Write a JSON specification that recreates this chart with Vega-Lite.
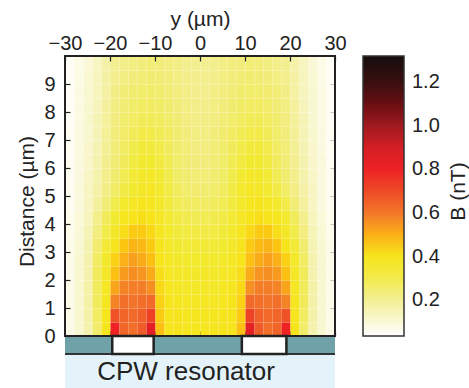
{
"$schema": "https://vega.github.io/schema/vega-lite/v6.json",
"width": 270, "height": 332,
"autosize": {"type": "none"},
"padding": {"left": 65, "top": 56, "right": 134, "bottom": 0},
"config": {
  "font": "Liberation Sans",
  "view": {"stroke": null},
  "axis": {"labelFontSize": 20, "titleFontSize": 21, "titleFontWeight": "normal", "labelColor": "#222", "titleColor": "#222", "tickColor": "#222", "domain": false, "grid": false, "tickSize": -5, "tickWidth": 1.2, "labelFlush": false, "labelOverlap": false}
},
"datasets": {
"field": [
{"y":-30,"z":0,"b":0.07},{"y":-28,"z":0,"b":0.11},{"y":-26,"z":0,"b":0.16},{"y":-24,"z":0,"b":0.26},{"y":-22,"z":0,"b":0.40},{"y":-20,"z":0,"b":0.80},{"y":-18,"z":0,"b":0.64},{"y":-16,"z":0,"b":0.62},{"y":-14,"z":0,"b":0.66},{"y":-12,"z":0,"b":0.85},{"y":-10,"z":0,"b":0.47},{"y":-8,"z":0,"b":0.40},{"y":-6,"z":0,"b":0.40},{"y":-4,"z":0,"b":0.39},{"y":-2,"z":0,"b":0.39},
{"y":0,"z":0,"b":0.39},{"y":2,"z":0,"b":0.39},{"y":4,"z":0,"b":0.40},{"y":6,"z":0,"b":0.40},{"y":8,"z":0,"b":0.47},{"y":10,"z":0,"b":0.85},{"y":12,"z":0,"b":0.66},{"y":14,"z":0,"b":0.62},{"y":16,"z":0,"b":0.64},{"y":18,"z":0,"b":0.80},{"y":20,"z":0,"b":0.40},{"y":22,"z":0,"b":0.26},{"y":24,"z":0,"b":0.16},{"y":26,"z":0,"b":0.11},{"y":28,"z":0,"b":0.07},
{"y":-30,"z":0.5,"b":0.07},{"y":-28,"z":0.5,"b":0.11},{"y":-26,"z":0.5,"b":0.17},{"y":-24,"z":0.5,"b":0.27},{"y":-22,"z":0.5,"b":0.40},{"y":-20,"z":0.5,"b":0.68},{"y":-18,"z":0.5,"b":0.64},{"y":-16,"z":0.5,"b":0.63},{"y":-14,"z":0.5,"b":0.65},{"y":-12,"z":0.5,"b":0.72},{"y":-10,"z":0.5,"b":0.45},{"y":-8,"z":0.5,"b":0.40},{"y":-6,"z":0.5,"b":0.40},{"y":-4,"z":0.5,"b":0.39},{"y":-2,"z":0.5,"b":0.39},
{"y":0,"z":0.5,"b":0.39},{"y":2,"z":0.5,"b":0.39},{"y":4,"z":0.5,"b":0.40},{"y":6,"z":0.5,"b":0.40},{"y":8,"z":0.5,"b":0.45},{"y":10,"z":0.5,"b":0.72},{"y":12,"z":0.5,"b":0.65},{"y":14,"z":0.5,"b":0.63},{"y":16,"z":0.5,"b":0.64},{"y":18,"z":0.5,"b":0.68},{"y":20,"z":0.5,"b":0.40},{"y":22,"z":0.5,"b":0.27},{"y":24,"z":0.5,"b":0.17},{"y":26,"z":0.5,"b":0.11},{"y":28,"z":0.5,"b":0.07},
{"y":-30,"z":1,"b":0.07},{"y":-28,"z":1,"b":0.11},{"y":-26,"z":1,"b":0.17},{"y":-24,"z":1,"b":0.28},{"y":-22,"z":1,"b":0.39},{"y":-20,"z":1,"b":0.58},{"y":-18,"z":1,"b":0.62},{"y":-16,"z":1,"b":0.61},{"y":-14,"z":1,"b":0.62},{"y":-12,"z":1,"b":0.63},{"y":-10,"z":1,"b":0.44},{"y":-8,"z":1,"b":0.40},{"y":-6,"z":1,"b":0.39},{"y":-4,"z":1,"b":0.38},{"y":-2,"z":1,"b":0.38},
{"y":0,"z":1,"b":0.38},{"y":2,"z":1,"b":0.38},{"y":4,"z":1,"b":0.39},{"y":6,"z":1,"b":0.40},{"y":8,"z":1,"b":0.44},{"y":10,"z":1,"b":0.63},{"y":12,"z":1,"b":0.62},{"y":14,"z":1,"b":0.61},{"y":16,"z":1,"b":0.62},{"y":18,"z":1,"b":0.58},{"y":20,"z":1,"b":0.39},{"y":22,"z":1,"b":0.28},{"y":24,"z":1,"b":0.17},{"y":26,"z":1,"b":0.11},{"y":28,"z":1,"b":0.07},
{"y":-30,"z":1.5,"b":0.07},{"y":-28,"z":1.5,"b":0.11},{"y":-26,"z":1.5,"b":0.17},{"y":-24,"z":1.5,"b":0.28},{"y":-22,"z":1.5,"b":0.38},{"y":-20,"z":1.5,"b":0.52},{"y":-18,"z":1.5,"b":0.58},{"y":-16,"z":1.5,"b":0.59},{"y":-14,"z":1.5,"b":0.59},{"y":-12,"z":1.5,"b":0.56},{"y":-10,"z":1.5,"b":0.43},{"y":-8,"z":1.5,"b":0.39},{"y":-6,"z":1.5,"b":0.38},{"y":-4,"z":1.5,"b":0.37},{"y":-2,"z":1.5,"b":0.37},
{"y":0,"z":1.5,"b":0.37},{"y":2,"z":1.5,"b":0.37},{"y":4,"z":1.5,"b":0.38},{"y":6,"z":1.5,"b":0.39},{"y":8,"z":1.5,"b":0.43},{"y":10,"z":1.5,"b":0.56},{"y":12,"z":1.5,"b":0.59},{"y":14,"z":1.5,"b":0.59},{"y":16,"z":1.5,"b":0.58},{"y":18,"z":1.5,"b":0.52},{"y":20,"z":1.5,"b":0.38},{"y":22,"z":1.5,"b":0.28},{"y":24,"z":1.5,"b":0.17},{"y":26,"z":1.5,"b":0.11},{"y":28,"z":1.5,"b":0.07},
{"y":-30,"z":2,"b":0.07},{"y":-28,"z":2,"b":0.11},{"y":-26,"z":2,"b":0.16},{"y":-24,"z":2,"b":0.28},{"y":-22,"z":2,"b":0.37},{"y":-20,"z":2,"b":0.47},{"y":-18,"z":2,"b":0.54},{"y":-16,"z":2,"b":0.56},{"y":-14,"z":2,"b":0.55},{"y":-12,"z":2,"b":0.51},{"y":-10,"z":2,"b":0.42},{"y":-8,"z":2,"b":0.38},{"y":-6,"z":2,"b":0.37},{"y":-4,"z":2,"b":0.36},{"y":-2,"z":2,"b":0.36},
{"y":0,"z":2,"b":0.36},{"y":2,"z":2,"b":0.36},{"y":4,"z":2,"b":0.37},{"y":6,"z":2,"b":0.38},{"y":8,"z":2,"b":0.42},{"y":10,"z":2,"b":0.51},{"y":12,"z":2,"b":0.55},{"y":14,"z":2,"b":0.56},{"y":16,"z":2,"b":0.54},{"y":18,"z":2,"b":0.47},{"y":20,"z":2,"b":0.37},{"y":22,"z":2,"b":0.28},{"y":24,"z":2,"b":0.16},{"y":26,"z":2,"b":0.11},{"y":28,"z":2,"b":0.07},
{"y":-30,"z":2.5,"b":0.07},{"y":-28,"z":2.5,"b":0.11},{"y":-26,"z":2.5,"b":0.16},{"y":-24,"z":2.5,"b":0.27},{"y":-22,"z":2.5,"b":0.36},{"y":-20,"z":2.5,"b":0.44},{"y":-18,"z":2.5,"b":0.50},{"y":-16,"z":2.5,"b":0.53},{"y":-14,"z":2.5,"b":0.51},{"y":-12,"z":2.5,"b":0.47},{"y":-10,"z":2.5,"b":0.41},{"y":-8,"z":2.5,"b":0.38},{"y":-6,"z":2.5,"b":0.36},{"y":-4,"z":2.5,"b":0.35},{"y":-2,"z":2.5,"b":0.35},
{"y":0,"z":2.5,"b":0.35},{"y":2,"z":2.5,"b":0.35},{"y":4,"z":2.5,"b":0.36},{"y":6,"z":2.5,"b":0.38},{"y":8,"z":2.5,"b":0.41},{"y":10,"z":2.5,"b":0.47},{"y":12,"z":2.5,"b":0.51},{"y":14,"z":2.5,"b":0.53},{"y":16,"z":2.5,"b":0.50},{"y":18,"z":2.5,"b":0.44},{"y":20,"z":2.5,"b":0.36},{"y":22,"z":2.5,"b":0.27},{"y":24,"z":2.5,"b":0.16},{"y":26,"z":2.5,"b":0.11},{"y":28,"z":2.5,"b":0.07},
{"y":-30,"z":3,"b":0.07},{"y":-28,"z":3,"b":0.105},{"y":-26,"z":3,"b":0.155},{"y":-24,"z":3,"b":0.25},{"y":-22,"z":3,"b":0.33},{"y":-20,"z":3,"b":0.40},{"y":-18,"z":3,"b":0.46},{"y":-16,"z":3,"b":0.49},{"y":-14,"z":3,"b":0.48},{"y":-12,"z":3,"b":0.45},{"y":-10,"z":3,"b":0.40},{"y":-8,"z":3,"b":0.36},{"y":-6,"z":3,"b":0.34},{"y":-4,"z":3,"b":0.33},{"y":-2,"z":3,"b":0.33},
{"y":0,"z":3,"b":0.33},{"y":2,"z":3,"b":0.33},{"y":4,"z":3,"b":0.34},{"y":6,"z":3,"b":0.36},{"y":8,"z":3,"b":0.40},{"y":10,"z":3,"b":0.45},{"y":12,"z":3,"b":0.48},{"y":14,"z":3,"b":0.49},{"y":16,"z":3,"b":0.46},{"y":18,"z":3,"b":0.40},{"y":20,"z":3,"b":0.33},{"y":22,"z":3,"b":0.25},{"y":24,"z":3,"b":0.155},{"y":26,"z":3,"b":0.105},{"y":28,"z":3,"b":0.07},
{"y":-30,"z":3.5,"b":0.065},{"y":-28,"z":3.5,"b":0.10},{"y":-26,"z":3.5,"b":0.15},{"y":-24,"z":3.5,"b":0.23},{"y":-22,"z":3.5,"b":0.30},{"y":-20,"z":3.5,"b":0.37},{"y":-18,"z":3.5,"b":0.42},{"y":-16,"z":3.5,"b":0.45},{"y":-14,"z":3.5,"b":0.45},{"y":-12,"z":3.5,"b":0.43},{"y":-10,"z":3.5,"b":0.39},{"y":-8,"z":3.5,"b":0.35},{"y":-6,"z":3.5,"b":0.325},{"y":-4,"z":3.5,"b":0.315},{"y":-2,"z":3.5,"b":0.31},
{"y":0,"z":3.5,"b":0.31},{"y":2,"z":3.5,"b":0.315},{"y":4,"z":3.5,"b":0.325},{"y":6,"z":3.5,"b":0.35},{"y":8,"z":3.5,"b":0.39},{"y":10,"z":3.5,"b":0.43},{"y":12,"z":3.5,"b":0.45},{"y":14,"z":3.5,"b":0.45},{"y":16,"z":3.5,"b":0.42},{"y":18,"z":3.5,"b":0.37},{"y":20,"z":3.5,"b":0.30},{"y":22,"z":3.5,"b":0.23},{"y":24,"z":3.5,"b":0.15},{"y":26,"z":3.5,"b":0.10},{"y":28,"z":3.5,"b":0.065},
{"y":-30,"z":4,"b":0.065},{"y":-28,"z":4,"b":0.095},{"y":-26,"z":4,"b":0.14},{"y":-24,"z":4,"b":0.21},{"y":-22,"z":4,"b":0.28},{"y":-20,"z":4,"b":0.34},{"y":-18,"z":4,"b":0.39},{"y":-16,"z":4,"b":0.41},{"y":-14,"z":4,"b":0.42},{"y":-12,"z":4,"b":0.41},{"y":-10,"z":4,"b":0.375},{"y":-8,"z":4,"b":0.335},{"y":-6,"z":4,"b":0.31},{"y":-4,"z":4,"b":0.295},{"y":-2,"z":4,"b":0.29},
{"y":0,"z":4,"b":0.29},{"y":2,"z":4,"b":0.295},{"y":4,"z":4,"b":0.31},{"y":6,"z":4,"b":0.335},{"y":8,"z":4,"b":0.375},{"y":10,"z":4,"b":0.41},{"y":12,"z":4,"b":0.42},{"y":14,"z":4,"b":0.41},{"y":16,"z":4,"b":0.39},{"y":18,"z":4,"b":0.34},{"y":20,"z":4,"b":0.28},{"y":22,"z":4,"b":0.21},{"y":24,"z":4,"b":0.14},{"y":26,"z":4,"b":0.095},{"y":28,"z":4,"b":0.065},
{"y":-30,"z":4.5,"b":0.06},{"y":-28,"z":4.5,"b":0.09},{"y":-26,"z":4.5,"b":0.13},{"y":-24,"z":4.5,"b":0.185},{"y":-22,"z":4.5,"b":0.24},{"y":-20,"z":4.5,"b":0.30},{"y":-18,"z":4.5,"b":0.35},{"y":-16,"z":4.5,"b":0.38},{"y":-14,"z":4.5,"b":0.40},{"y":-12,"z":4.5,"b":0.39},{"y":-10,"z":4.5,"b":0.36},{"y":-8,"z":4.5,"b":0.32},{"y":-6,"z":4.5,"b":0.29},{"y":-4,"z":4.5,"b":0.275},{"y":-2,"z":4.5,"b":0.27},
{"y":0,"z":4.5,"b":0.27},{"y":2,"z":4.5,"b":0.275},{"y":4,"z":4.5,"b":0.29},{"y":6,"z":4.5,"b":0.32},{"y":8,"z":4.5,"b":0.36},{"y":10,"z":4.5,"b":0.39},{"y":12,"z":4.5,"b":0.40},{"y":14,"z":4.5,"b":0.38},{"y":16,"z":4.5,"b":0.35},{"y":18,"z":4.5,"b":0.30},{"y":20,"z":4.5,"b":0.24},{"y":22,"z":4.5,"b":0.185},{"y":24,"z":4.5,"b":0.13},{"y":26,"z":4.5,"b":0.09},{"y":28,"z":4.5,"b":0.06},
{"y":-30,"z":5,"b":0.06},{"y":-28,"z":5,"b":0.09},{"y":-26,"z":5,"b":0.13},{"y":-24,"z":5,"b":0.17},{"y":-22,"z":5,"b":0.22},{"y":-20,"z":5,"b":0.265},{"y":-18,"z":5,"b":0.31},{"y":-16,"z":5,"b":0.34},{"y":-14,"z":5,"b":0.37},{"y":-12,"z":5,"b":0.38},{"y":-10,"z":5,"b":0.35},{"y":-8,"z":5,"b":0.31},{"y":-6,"z":5,"b":0.275},{"y":-4,"z":5,"b":0.26},{"y":-2,"z":5,"b":0.25},
{"y":0,"z":5,"b":0.25},{"y":2,"z":5,"b":0.26},{"y":4,"z":5,"b":0.275},{"y":6,"z":5,"b":0.31},{"y":8,"z":5,"b":0.35},{"y":10,"z":5,"b":0.38},{"y":12,"z":5,"b":0.37},{"y":14,"z":5,"b":0.34},{"y":16,"z":5,"b":0.31},{"y":18,"z":5,"b":0.265},{"y":20,"z":5,"b":0.22},{"y":22,"z":5,"b":0.17},{"y":24,"z":5,"b":0.13},{"y":26,"z":5,"b":0.09},{"y":28,"z":5,"b":0.06},
{"y":-30,"z":5.5,"b":0.06},{"y":-28,"z":5.5,"b":0.09},{"y":-26,"z":5.5,"b":0.125},{"y":-24,"z":5.5,"b":0.165},{"y":-22,"z":5.5,"b":0.21},{"y":-20,"z":5.5,"b":0.25},{"y":-18,"z":5.5,"b":0.29},{"y":-16,"z":5.5,"b":0.33},{"y":-14,"z":5.5,"b":0.36},{"y":-12,"z":5.5,"b":0.365},{"y":-10,"z":5.5,"b":0.34},{"y":-8,"z":5.5,"b":0.30},{"y":-6,"z":5.5,"b":0.265},{"y":-4,"z":5.5,"b":0.25},{"y":-2,"z":5.5,"b":0.24},
{"y":0,"z":5.5,"b":0.24},{"y":2,"z":5.5,"b":0.25},{"y":4,"z":5.5,"b":0.265},{"y":6,"z":5.5,"b":0.30},{"y":8,"z":5.5,"b":0.34},{"y":10,"z":5.5,"b":0.365},{"y":12,"z":5.5,"b":0.36},{"y":14,"z":5.5,"b":0.33},{"y":16,"z":5.5,"b":0.29},{"y":18,"z":5.5,"b":0.25},{"y":20,"z":5.5,"b":0.21},{"y":22,"z":5.5,"b":0.165},{"y":24,"z":5.5,"b":0.125},{"y":26,"z":5.5,"b":0.09},{"y":28,"z":5.5,"b":0.06},
{"y":-30,"z":6,"b":0.055},{"y":-28,"z":6,"b":0.09},{"y":-26,"z":6,"b":0.12},{"y":-24,"z":6,"b":0.16},{"y":-22,"z":6,"b":0.205},{"y":-20,"z":6,"b":0.245},{"y":-18,"z":6,"b":0.28},{"y":-16,"z":6,"b":0.315},{"y":-14,"z":6,"b":0.34},{"y":-12,"z":6,"b":0.345},{"y":-10,"z":6,"b":0.32},{"y":-8,"z":6,"b":0.29},{"y":-6,"z":6,"b":0.26},{"y":-4,"z":6,"b":0.245},{"y":-2,"z":6,"b":0.235},
{"y":0,"z":6,"b":0.235},{"y":2,"z":6,"b":0.245},{"y":4,"z":6,"b":0.26},{"y":6,"z":6,"b":0.29},{"y":8,"z":6,"b":0.32},{"y":10,"z":6,"b":0.345},{"y":12,"z":6,"b":0.34},{"y":14,"z":6,"b":0.315},{"y":16,"z":6,"b":0.28},{"y":18,"z":6,"b":0.245},{"y":20,"z":6,"b":0.205},{"y":22,"z":6,"b":0.16},{"y":24,"z":6,"b":0.12},{"y":26,"z":6,"b":0.09},{"y":28,"z":6,"b":0.055},
{"y":-30,"z":6.5,"b":0.055},{"y":-28,"z":6.5,"b":0.085},{"y":-26,"z":6.5,"b":0.12},{"y":-24,"z":6.5,"b":0.155},{"y":-22,"z":6.5,"b":0.20},{"y":-20,"z":6.5,"b":0.24},{"y":-18,"z":6.5,"b":0.27},{"y":-16,"z":6.5,"b":0.30},{"y":-14,"z":6.5,"b":0.325},{"y":-12,"z":6.5,"b":0.325},{"y":-10,"z":6.5,"b":0.305},{"y":-8,"z":6.5,"b":0.28},{"y":-6,"z":6.5,"b":0.255},{"y":-4,"z":6.5,"b":0.24},{"y":-2,"z":6.5,"b":0.23},
{"y":0,"z":6.5,"b":0.23},{"y":2,"z":6.5,"b":0.24},{"y":4,"z":6.5,"b":0.255},{"y":6,"z":6.5,"b":0.28},{"y":8,"z":6.5,"b":0.305},{"y":10,"z":6.5,"b":0.325},{"y":12,"z":6.5,"b":0.325},{"y":14,"z":6.5,"b":0.30},{"y":16,"z":6.5,"b":0.27},{"y":18,"z":6.5,"b":0.24},{"y":20,"z":6.5,"b":0.20},{"y":22,"z":6.5,"b":0.155},{"y":24,"z":6.5,"b":0.12},{"y":26,"z":6.5,"b":0.085},{"y":28,"z":6.5,"b":0.055},
{"y":-30,"z":7,"b":0.055},{"y":-28,"z":7,"b":0.085},{"y":-26,"z":7,"b":0.115},{"y":-24,"z":7,"b":0.15},{"y":-22,"z":7,"b":0.195},{"y":-20,"z":7,"b":0.235},{"y":-18,"z":7,"b":0.26},{"y":-16,"z":7,"b":0.285},{"y":-14,"z":7,"b":0.305},{"y":-12,"z":7,"b":0.305},{"y":-10,"z":7,"b":0.29},{"y":-8,"z":7,"b":0.27},{"y":-6,"z":7,"b":0.25},{"y":-4,"z":7,"b":0.235},{"y":-2,"z":7,"b":0.225},
{"y":0,"z":7,"b":0.225},{"y":2,"z":7,"b":0.235},{"y":4,"z":7,"b":0.25},{"y":6,"z":7,"b":0.27},{"y":8,"z":7,"b":0.29},{"y":10,"z":7,"b":0.305},{"y":12,"z":7,"b":0.305},{"y":14,"z":7,"b":0.285},{"y":16,"z":7,"b":0.26},{"y":18,"z":7,"b":0.235},{"y":20,"z":7,"b":0.195},{"y":22,"z":7,"b":0.15},{"y":24,"z":7,"b":0.115},{"y":26,"z":7,"b":0.085},{"y":28,"z":7,"b":0.055},
{"y":-30,"z":7.5,"b":0.05},{"y":-28,"z":7.5,"b":0.08},{"y":-26,"z":7.5,"b":0.115},{"y":-24,"z":7.5,"b":0.15},{"y":-22,"z":7.5,"b":0.19},{"y":-20,"z":7.5,"b":0.23},{"y":-18,"z":7.5,"b":0.255},{"y":-16,"z":7.5,"b":0.27},{"y":-14,"z":7.5,"b":0.285},{"y":-12,"z":7.5,"b":0.285},{"y":-10,"z":7.5,"b":0.275},{"y":-8,"z":7.5,"b":0.26},{"y":-6,"z":7.5,"b":0.245},{"y":-4,"z":7.5,"b":0.23},{"y":-2,"z":7.5,"b":0.22},
{"y":0,"z":7.5,"b":0.22},{"y":2,"z":7.5,"b":0.23},{"y":4,"z":7.5,"b":0.245},{"y":6,"z":7.5,"b":0.26},{"y":8,"z":7.5,"b":0.275},{"y":10,"z":7.5,"b":0.285},{"y":12,"z":7.5,"b":0.285},{"y":14,"z":7.5,"b":0.27},{"y":16,"z":7.5,"b":0.255},{"y":18,"z":7.5,"b":0.23},{"y":20,"z":7.5,"b":0.19},{"y":22,"z":7.5,"b":0.15},{"y":24,"z":7.5,"b":0.115},{"y":26,"z":7.5,"b":0.08},{"y":28,"z":7.5,"b":0.05},
{"y":-30,"z":8,"b":0.05},{"y":-28,"z":8,"b":0.08},{"y":-26,"z":8,"b":0.11},{"y":-24,"z":8,"b":0.145},{"y":-22,"z":8,"b":0.185},{"y":-20,"z":8,"b":0.225},{"y":-18,"z":8,"b":0.245},{"y":-16,"z":8,"b":0.26},{"y":-14,"z":8,"b":0.27},{"y":-12,"z":8,"b":0.27},{"y":-10,"z":8,"b":0.265},{"y":-8,"z":8,"b":0.25},{"y":-6,"z":8,"b":0.235},{"y":-4,"z":8,"b":0.225},{"y":-2,"z":8,"b":0.215},
{"y":0,"z":8,"b":0.215},{"y":2,"z":8,"b":0.225},{"y":4,"z":8,"b":0.235},{"y":6,"z":8,"b":0.25},{"y":8,"z":8,"b":0.265},{"y":10,"z":8,"b":0.27},{"y":12,"z":8,"b":0.27},{"y":14,"z":8,"b":0.26},{"y":16,"z":8,"b":0.245},{"y":18,"z":8,"b":0.225},{"y":20,"z":8,"b":0.185},{"y":22,"z":8,"b":0.145},{"y":24,"z":8,"b":0.11},{"y":26,"z":8,"b":0.08},{"y":28,"z":8,"b":0.05},
{"y":-30,"z":8.5,"b":0.05},{"y":-28,"z":8.5,"b":0.08},{"y":-26,"z":8.5,"b":0.11},{"y":-24,"z":8.5,"b":0.14},{"y":-22,"z":8.5,"b":0.18},{"y":-20,"z":8.5,"b":0.22},{"y":-18,"z":8.5,"b":0.24},{"y":-16,"z":8.5,"b":0.25},{"y":-14,"z":8.5,"b":0.26},{"y":-12,"z":8.5,"b":0.26},{"y":-10,"z":8.5,"b":0.255},{"y":-8,"z":8.5,"b":0.24},{"y":-6,"z":8.5,"b":0.23},{"y":-4,"z":8.5,"b":0.22},{"y":-2,"z":8.5,"b":0.21},
{"y":0,"z":8.5,"b":0.21},{"y":2,"z":8.5,"b":0.22},{"y":4,"z":8.5,"b":0.23},{"y":6,"z":8.5,"b":0.24},{"y":8,"z":8.5,"b":0.255},{"y":10,"z":8.5,"b":0.26},{"y":12,"z":8.5,"b":0.26},{"y":14,"z":8.5,"b":0.25},{"y":16,"z":8.5,"b":0.24},{"y":18,"z":8.5,"b":0.22},{"y":20,"z":8.5,"b":0.18},{"y":22,"z":8.5,"b":0.14},{"y":24,"z":8.5,"b":0.11},{"y":26,"z":8.5,"b":0.08},{"y":28,"z":8.5,"b":0.05},
{"y":-30,"z":9,"b":0.05},{"y":-28,"z":9,"b":0.075},{"y":-26,"z":9,"b":0.105},{"y":-24,"z":9,"b":0.14},{"y":-22,"z":9,"b":0.175},{"y":-20,"z":9,"b":0.21},{"y":-18,"z":9,"b":0.225},{"y":-16,"z":9,"b":0.235},{"y":-14,"z":9,"b":0.245},{"y":-12,"z":9,"b":0.25},{"y":-10,"z":9,"b":0.245},{"y":-8,"z":9,"b":0.235},{"y":-6,"z":9,"b":0.225},{"y":-4,"z":9,"b":0.215},{"y":-2,"z":9,"b":0.21},
{"y":0,"z":9,"b":0.21},{"y":2,"z":9,"b":0.215},{"y":4,"z":9,"b":0.225},{"y":6,"z":9,"b":0.235},{"y":8,"z":9,"b":0.245},{"y":10,"z":9,"b":0.25},{"y":12,"z":9,"b":0.245},{"y":14,"z":9,"b":0.235},{"y":16,"z":9,"b":0.225},{"y":18,"z":9,"b":0.21},{"y":20,"z":9,"b":0.175},{"y":22,"z":9,"b":0.14},{"y":24,"z":9,"b":0.105},{"y":26,"z":9,"b":0.075},{"y":28,"z":9,"b":0.05},
{"y":-30,"z":9.5,"b":0.05},{"y":-28,"z":9.5,"b":0.075},{"y":-26,"z":9.5,"b":0.10},{"y":-24,"z":9.5,"b":0.135},{"y":-22,"z":9.5,"b":0.17},{"y":-20,"z":9.5,"b":0.205},{"y":-18,"z":9.5,"b":0.215},{"y":-16,"z":9.5,"b":0.225},{"y":-14,"z":9.5,"b":0.235},{"y":-12,"z":9.5,"b":0.24},{"y":-10,"z":9.5,"b":0.235},{"y":-8,"z":9.5,"b":0.23},{"y":-6,"z":9.5,"b":0.22},{"y":-4,"z":9.5,"b":0.21},{"y":-2,"z":9.5,"b":0.205},
{"y":0,"z":9.5,"b":0.205},{"y":2,"z":9.5,"b":0.21},{"y":4,"z":9.5,"b":0.22},{"y":6,"z":9.5,"b":0.23},{"y":8,"z":9.5,"b":0.235},{"y":10,"z":9.5,"b":0.24},{"y":12,"z":9.5,"b":0.235},{"y":14,"z":9.5,"b":0.225},{"y":16,"z":9.5,"b":0.215},{"y":18,"z":9.5,"b":0.205},{"y":20,"z":9.5,"b":0.17},{"y":22,"z":9.5,"b":0.135},{"y":24,"z":9.5,"b":0.10},{"y":26,"z":9.5,"b":0.075},{"y":28,"z":9.5,"b":0.05}
],
"gaps": [{"g0": -19.5, "g1": -10.3}, {"g0": 9.3, "g1": 19.2}],
"one": [{}]
},
"layer": [
{
  "data": {"name": "field"},
  "mark": {"type": "rect", "binSpacing": 0},
  "encoding": {
    "x": {"field": "y", "type": "quantitative", "bin": {"binned": true, "step": 2},
      "scale": {"domain": [-30, 30], "nice": false, "zero": false},
      "axis": {"orient": "top", "values": [-30, -20, -10, 0, 10, 20, 30], "format": "d", "title": "y (µm)", "labelFontSize": 20, "titleFontSize": 21, "labelPadding": 8, "titlePadding": 4}},
    "y": {"field": "z", "type": "quantitative", "bin": {"binned": true, "step": 0.5},
      "scale": {"domain": [-1.857, 10], "nice": false, "zero": false},
      "axis": {"orient": "left", "values": [0, 1, 2, 3, 4, 5, 6, 7, 8, 9], "format": "d", "title": "Distance (µm)", "labelFontSize": 20, "titleFontSize": 21, "labelPadding": 15, "titlePadding": 6, "titleY": 145}},
    "color": {"field": "b", "type": "quantitative",
      "scale": {"type": "linear", "interpolate": "rgb",
        "domain": [0.036, 0.09, 0.16, 0.25, 0.34, 0.41, 0.46, 0.53, 0.6, 0.68, 0.8, 0.89, 1.0, 1.12, 1.2, 1.32],
        "range": ["#ffffff", "#fbf9dd", "#f5f2b0", "#f1ec70", "#f2ea30", "#f7e41a", "#fcc50f", "#f8a01c", "#f3782a", "#ee5226", "#ee2224", "#d81f26", "#a01a20", "#5e0c0f", "#3a0f10", "#150c0c"]},
      "legend": {"type": "gradient", "orient": "none", "legendX": 298, "legendY": 0, "direction": "vertical", "title": null, "gradientLength": 280, "gradientThickness": 41, "values": [0.2, 0.4, 0.6, 0.8, 1.0, 1.2], "format": ".1f", "labelFontSize": 20, "labelOffset": 8, "labelColor": "#222", "labelOverlap": false, "gradientStrokeColor": "#333", "gradientStrokeWidth": 1.5}}
  }
},
{
  "data": {"name": "one"},
  "mark": {"type": "rect", "fill": "#e4f3fa"},
  "encoding": {"x": {"datum": -30, "type": "quantitative", "axis": null}, "x2": {"datum": 30}, "y": {"datum": -1.857, "type": "quantitative", "axis": null}, "y2": {"datum": -0.64}}
},
{
  "data": {"name": "one"},
  "mark": {"type": "rect", "fill": "#6fa2a8"},
  "encoding": {"x": {"datum": -30, "type": "quantitative", "axis": null}, "x2": {"datum": 30}, "y": {"datum": -0.64, "type": "quantitative", "axis": null}, "y2": {"datum": 0}}
},
{
  "data": {"name": "one"},
  "mark": {"type": "rule", "color": "#333", "strokeWidth": 2},
  "encoding": {"x": {"datum": -30, "type": "quantitative", "axis": null}, "x2": {"datum": 30}, "y": {"datum": -0.64, "type": "quantitative", "axis": null}}
},
{
  "data": {"name": "gaps"},
  "mark": {"type": "rect", "fill": "#ffffff", "stroke": "#222", "strokeWidth": 2.5},
  "encoding": {"x": {"field": "g0", "type": "quantitative", "axis": null}, "x2": {"field": "g1"}, "y": {"datum": -0.64, "type": "quantitative", "axis": null}, "y2": {"datum": 0}}
},
{
  "data": {"name": "one"},
  "mark": {"type": "rect", "filled": false, "stroke": "#222", "strokeWidth": 2},
  "encoding": {
    "x": {"datum": -30, "type": "quantitative", "axis": {"orient": "bottom", "values": [-30, -20, -10, 0, 10, 20, 30], "labels": false, "title": null, "offset": -52}},
    "x2": {"datum": 30},
    "y": {"datum": 0, "type": "quantitative", "axis": {"orient": "right", "values": [0, 1, 2, 3, 4, 5, 6, 7, 8, 9], "labels": false, "title": "B (nT)", "titleFontSize": 21, "titleAngle": 270, "titleX": 123, "titleY": 135, "titleAlign": "center", "titleBaseline": "middle"}},
    "y2": {"datum": 10}
  }
},
{
  "data": {"name": "one"},
  "mark": {"type": "text", "text": "CPW resonator", "fontSize": 26, "color": "#222", "align": "center", "baseline": "middle"},
  "encoding": {"x": {"datum": -3.1, "type": "quantitative", "axis": null}, "y": {"datum": -1.3, "type": "quantitative", "axis": null}}
}
],
"resolve": {"axis": {"x": "independent", "y": "independent"}}
}
